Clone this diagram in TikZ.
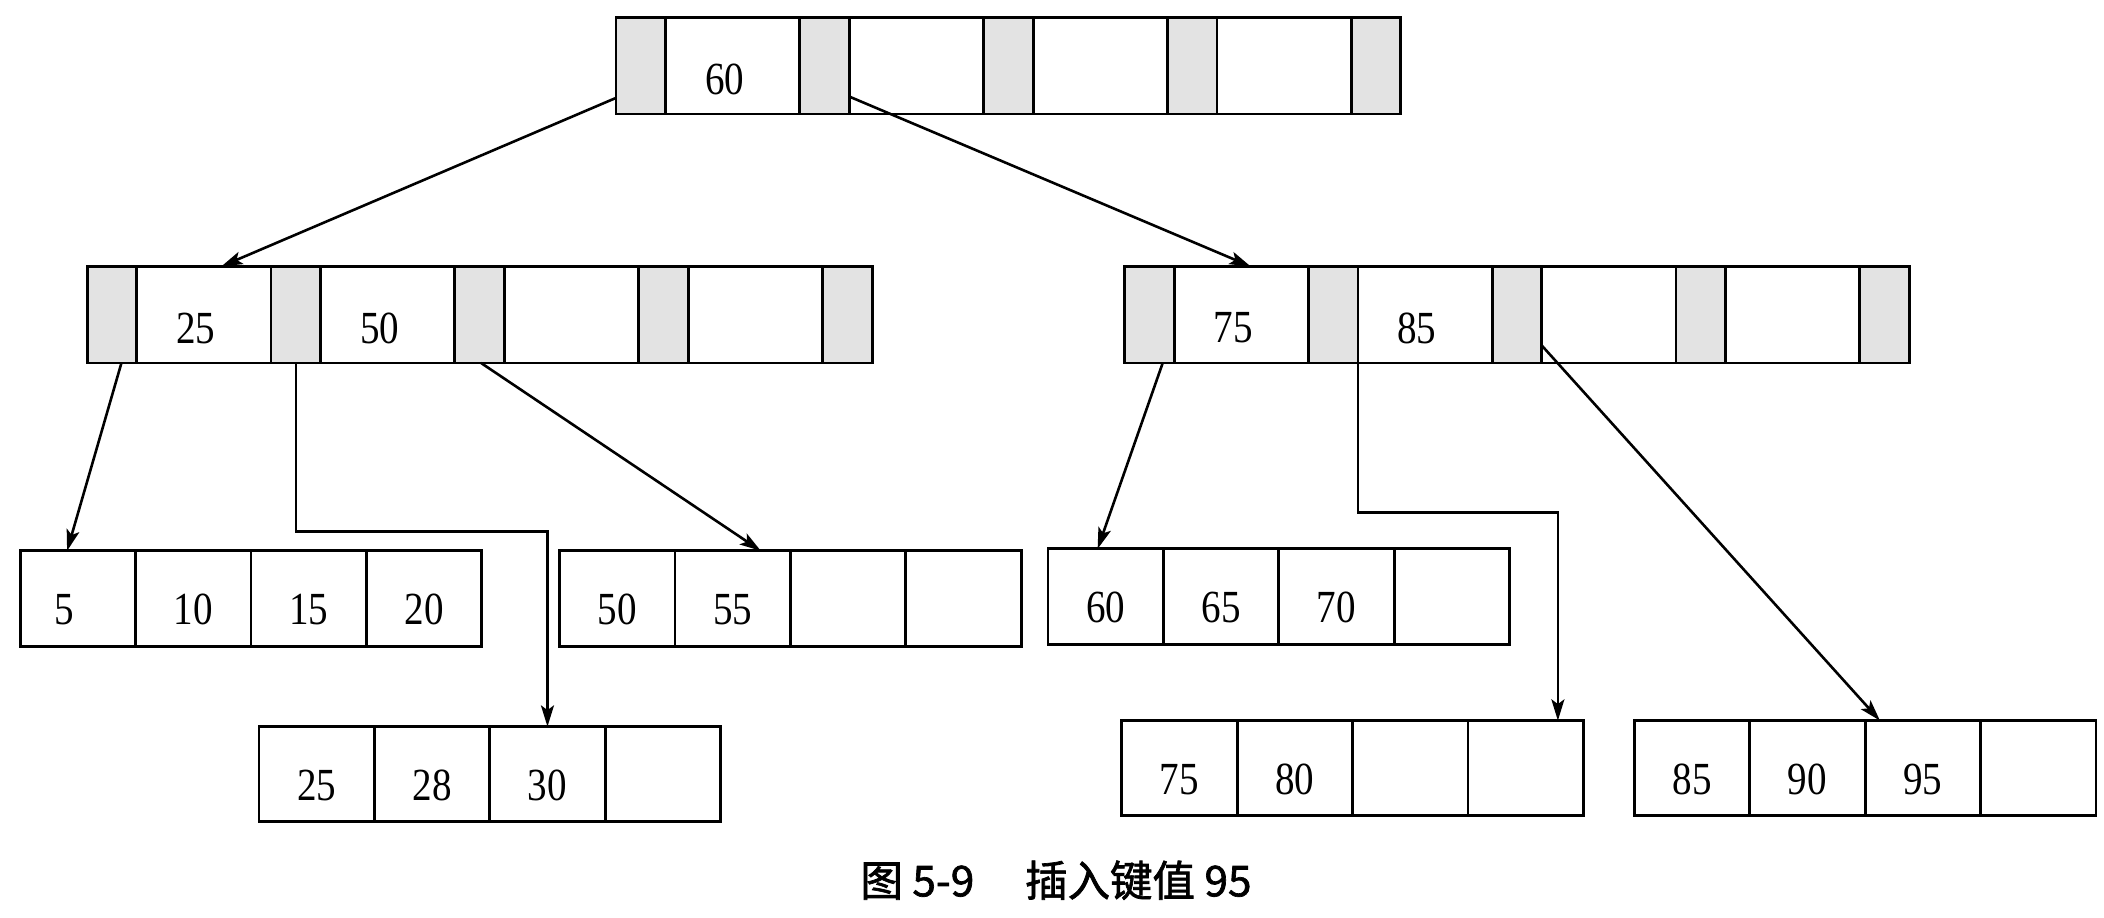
\documentclass[tikz,border=0pt]{standalone}
\usepackage{fontspec}
\usepackage{graphicx}
\setmainfont{Liberation Serif}
\newfontfamily\cjk[FakeBold=1.6]{Noto Sans CJK SC}
\usetikzlibrary{calc,arrows.meta}
\tikzset{
  cellbase/.style={draw=black, line width=1.2pt, inner sep=0pt, outer sep=0pt, minimum height=1.44cm},
  gcell/.style={cellbase, fill=gray!22, minimum width=0.74cm},
  kcell/.style={cellbase, fill=white, minimum width=2cm},
  lcell/.style={draw=black, line width=1.2pt, inner sep=0pt, outer sep=0pt, fill=white, minimum width=1.72cm, minimum height=1.42cm},
  numtxt/.style={inner sep=0pt, font=\fontsize{19.5}{22}\selectfont},
  arr/.style={line width=1.1pt, -{Stealth[length=9pt,width=5.5pt,inset=2pt]}},
}
\newcommand\num[1]{\scalebox{0.85}[1]{#1}}
% internal node: name, x0, y0, key1, key2
\newcommand\inode[5]{%
  \node[gcell] (#1-g1) at (#2+18.5,#3+36) {};
  \node[kcell] (#1-k1) at (#2+87,#3+36) {};
  \node[gcell] (#1-g2) at (#2+155.5,#3+36) {};
  \node[kcell] (#1-k2) at (#2+224,#3+36) {};
  \node[gcell] (#1-g3) at (#2+292.5,#3+36) {};
  \node[kcell] (#1-k3) at (#2+361,#3+36) {};
  \node[gcell] (#1-g4) at (#2+429.5,#3+36) {};
  \node[kcell] (#1-k4) at (#2+498,#3+36) {};
  \node[gcell] (#1-g5) at (#2+566.5,#3+36) {};
  \node[numtxt] (#1-t1) at (#2+81,#3+46) {\num{#4}};
  \node[numtxt] (#1-t2) at (#2+218,#3+46) {\num{#5}};
}
% leaf node: name, x0, y0, a, b, c, d
\newcommand\leaf[7]{%
  \node[lcell] (#1-c1) at (#2+43,#3+35.5) {};
  \node[lcell] (#1-c2) at (#2+129,#3+35.5) {};
  \node[lcell] (#1-c3) at (#2+215,#3+35.5) {};
  \node[lcell] (#1-c4) at (#2+301,#3+35.5) {};
  \node[numtxt] (#1-t1) at (#2+43,#3+44) {\num{#4}};
  \node[numtxt] (#1-t2) at (#2+129,#3+44) {\num{#5}};
  \node[numtxt] (#1-t3) at (#2+215,#3+44) {\num{#6}};
  \node[numtxt] (#1-t4) at (#2+301,#3+44) {\num{#7}};
}
\begin{document}
\begin{tikzpicture}[x=0.02cm,y=-0.02cm]
\useasboundingbox (0,0) rectangle (1568,684);
\inode{T}{459}{13}{60}{}
\inode{L}{65}{198.5}{25}{50}
\inode{R}{838}{198.5}{75}{85}
\leaf{A}{15}{410.5}{\hspace*{-14pt}5}{10}{15}{20}
\leaf{B}{417}{410.5}{50}{55}{}{}
\leaf{C}{193}{541.5}{25}{28}{30}{}
\leaf{D}{781}{409}{60}{65}{70}{}
\leaf{E}{836}{537}{75}{80}{}{}
\leaf{F}{1218}{537}{85}{90}{95}{}
\coordinate (bendA) at (0,396);
\coordinate (bendB) at (0,382);
\coordinate (E-in) at ($(E-c4.north)+(24,0)$);
\draw[arr] ($(T-g1.south west)+(0,-12)$) -- ($(L-k1.north)+(13,0)$);
\draw[arr] ($(T-g2.south east)+(0,-13)$) -- ($(R-k1.north)+(7,0)$);
\draw[arr] ($(L-g1.south)+(7,0)$) -- ($(A-c1.north)+(-8,0)$);
\draw[arr] (L-g2.south) |- (bendA -| C-c3.north) -- (C-c3.north);
\draw[arr] ($(L-g3.south)+(1,0)$) -- ($(B-c2.north)+(21,0)$);
\draw[arr] ($(R-g1.south)+(10,0)$) -- ($(D-c1.north)+(-6,0)$);
\draw[arr] (R-g2.south east) |- (bendB -| E-in) -- (E-in);
\draw[arr] ($(R-g3.south east)+(0,-13)$) -- ($(F-c3.north west)+(11,0)$);
\node[inner sep=0pt, font=\cjk\fontsize{18}{21}\selectfont] (cap) at (787,656) {图 5-9\hspace{1.2em}插入键值 95};
\end{tikzpicture}
\end{document}
